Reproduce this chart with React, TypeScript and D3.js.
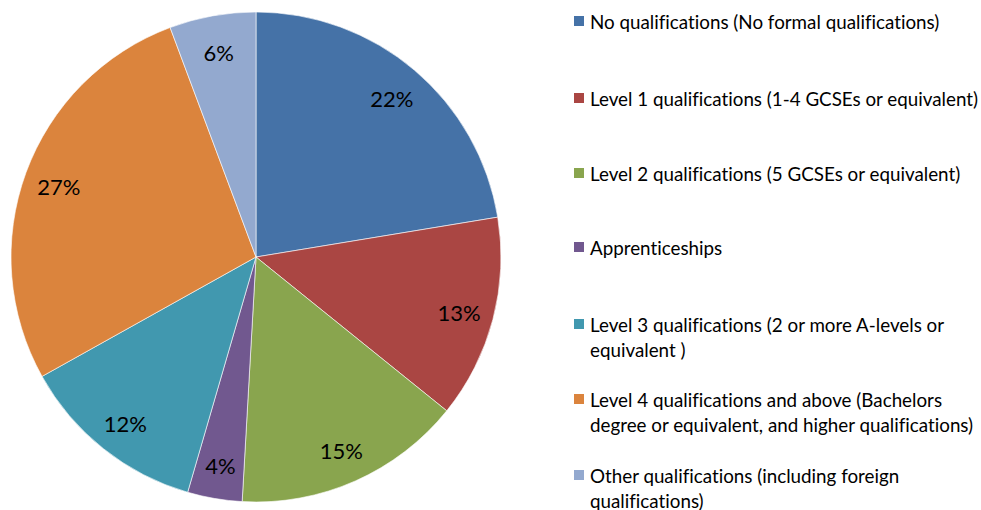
import React from "react";
import * as d3 from "d3";

const categories = [
  "No qualifications (No formal qualifications)",
  "Level 1 qualifications (1-4 GCSEs or equivalent)",
  "Level 2 qualifications (5 GCSEs or equivalent)",
  "Apprenticeships",
  "Level 3 qualifications (2 or more A-levels or equivalent )",
  "Level 4 qualifications and above (Bachelors degree or equivalent, and higher qualifications)",
  "Other qualifications (including foreign qualifications)",
];
const legendLines = [
  ["No qualifications (No formal qualifications)"],
  ["Level 1 qualifications (1-4 GCSEs or equivalent)"],
  ["Level 2 qualifications (5 GCSEs or equivalent)"],
  ["Apprenticeships"],
  ["Level 3 qualifications (2 or more A-levels or", "equivalent )"],
  ["Level 4 qualifications and above (Bachelors", "degree or equivalent, and higher qualifications)"],
  ["Other qualifications (including foreign", "qualifications)"],
];
const values = [22.4, 13.4, 15.1, 3.6, 12.4, 27.4, 5.7];
const colors = ["#4572A7", "#AA4643", "#89A54E", "#71588F", "#4198AF", "#DB843D", "#93A9CF"];
const legendY = [21, 98, 173, 247, 324, 399, 475];

export default function App() {
  const width = 981;
  const height = 510;
  const cx = 256;
  const cy = 257;
  const r = 245;
  const pie = d3.pie<number>().sort(null).value((d) => d);
  const arcs = pie(values);
  const arc = d3.arc<d3.PieArcDatum<number>>().innerRadius(0).outerRadius(r);
  const labelArc = d3.arc<d3.PieArcDatum<number>>().innerRadius(210).outerRadius(210);
  const font = "Lato, 'Open Sans', sans-serif";
  return (
    <svg width={width} height={height} style={{ position: "absolute", left: 0, top: 0, fontVariantLigatures: "none" }}>
      <rect width={width} height={height} fill="#fff" />
      <g transform={`translate(${cx},${cy})`}>
        {arcs.map((a, i) => (
          <path key={i} d={arc(a) || ""} fill={colors[i]} stroke="#fff" strokeWidth={0.6} />
        ))}
        {arcs.map((a, i) => {
          const [x, y] = labelArc.centroid(a);
          return (
            <text key={i} x={x} y={y + 2} textAnchor="middle" dominantBaseline="central"
              fontFamily={font} fontSize={22} fill="#000">
              {d3.format(".0%")(a.data / 100)}
            </text>
          );
        })}
      </g>
      <g fontFamily={font} fontSize={18.8} fill="#000">
        {categories.map((c, i) => (
          <g key={c}>
            <rect x={574} y={legendY[i] - 5} width={10} height={10} fill={colors[i]} />
            {legendLines[i].map((l, j) => (
              <text key={j} x={590} y={legendY[i] + j * 25} dominantBaseline="central">{l}</text>
            ))}
          </g>
        ))}
      </g>
    </svg>
  );
}
